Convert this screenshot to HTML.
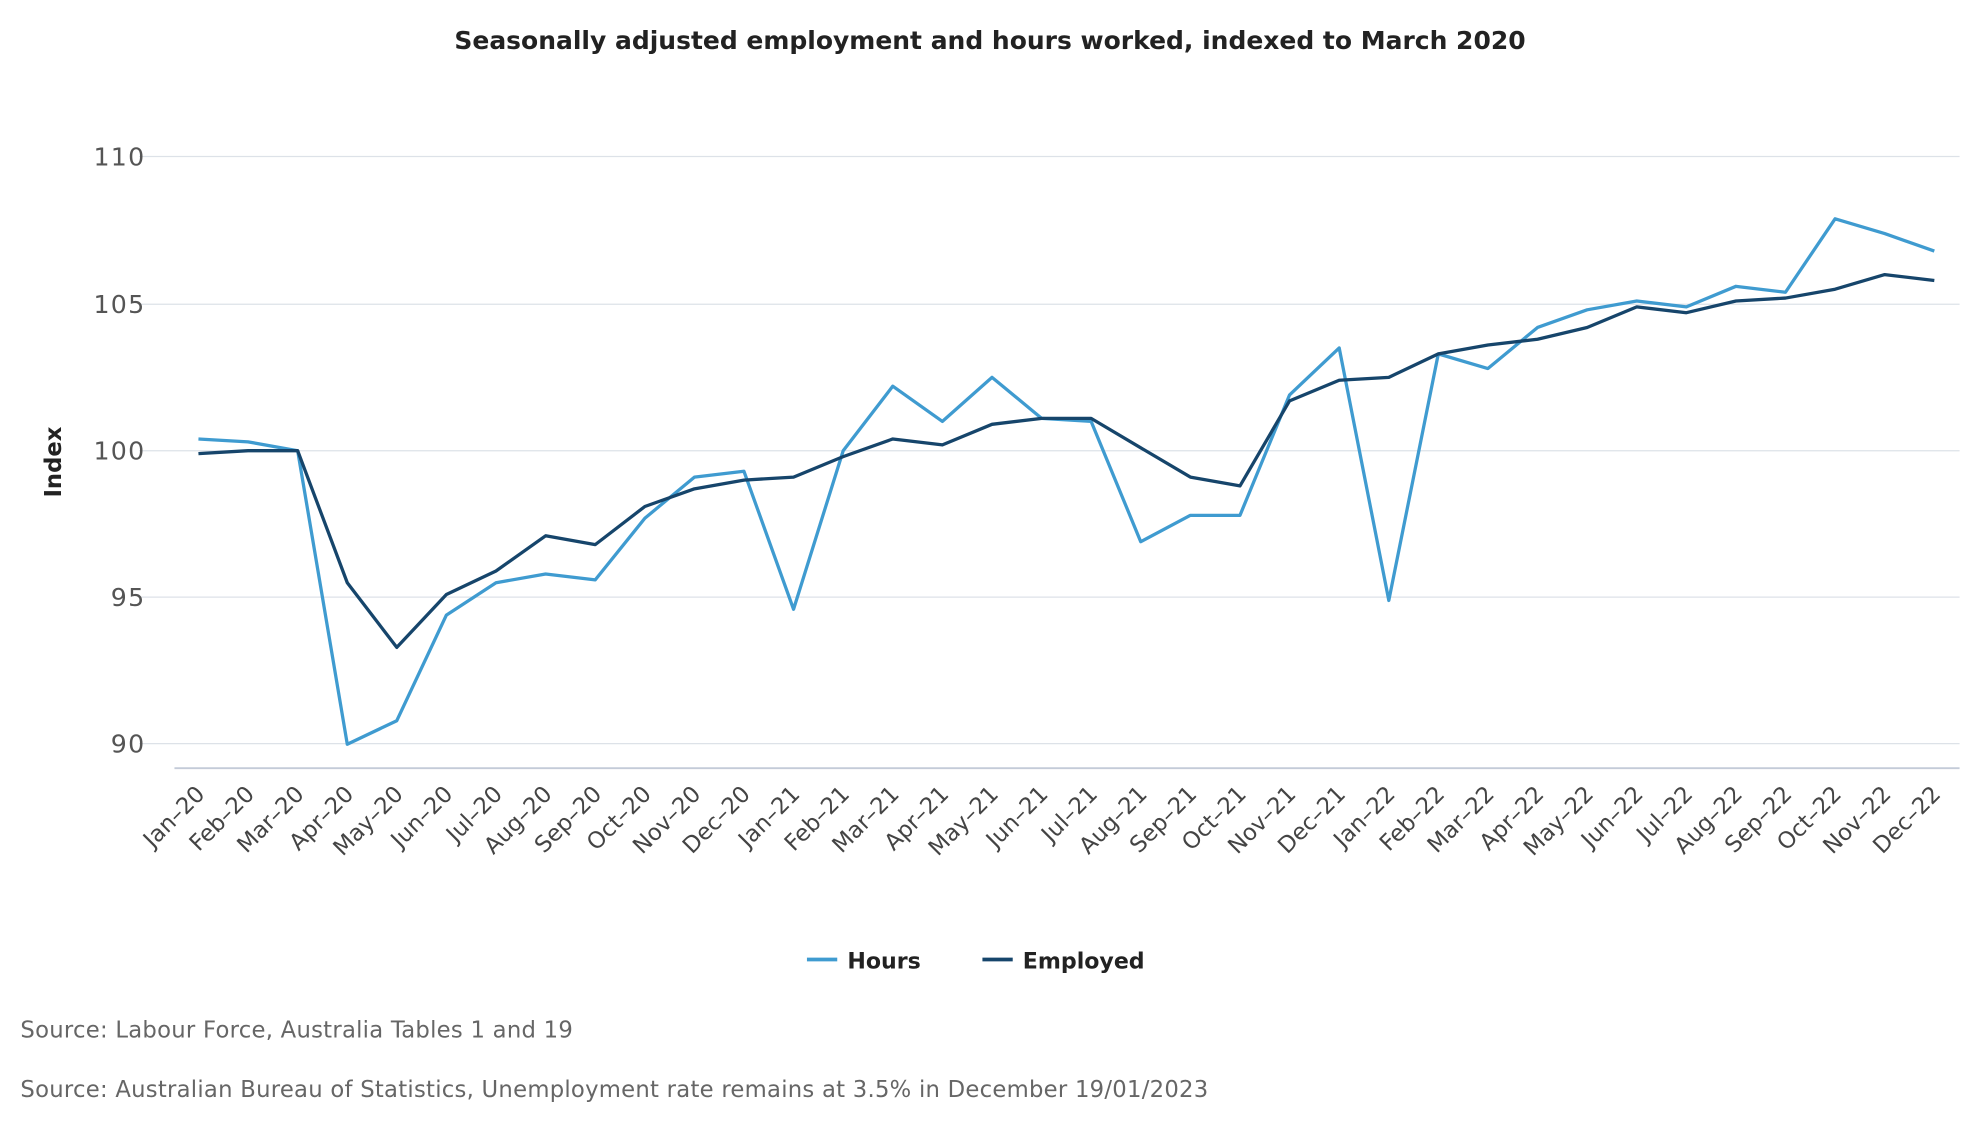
<!DOCTYPE html>
<html><head><meta charset="utf-8"><style>
html,body{margin:0;padding:0;background:#fff;}
svg{display:block;}
text{font-family:"DejaVu Sans","Liberation Sans",sans-serif;}
</style></head><body>
<svg width="1980" height="1140" viewBox="0 0 1568 903" xmlns="http://www.w3.org/2000/svg">
<rect width="1568" height="903" fill="#fff"/>
<text x="784" y="39" text-anchor="middle" font-size="19.8" font-weight="bold" fill="#222">Seasonally adjusted employment and hours worked, indexed to March 2020</text>
<g stroke="#dde2e8" stroke-width="1">
<line x1="110" y1="124" x2="1552" y2="124"/>
<line x1="110" y1="241" x2="1552" y2="241"/>
<line x1="110" y1="357" x2="1552" y2="357"/>
<line x1="110" y1="473" x2="1552" y2="473"/>
<line x1="110" y1="589" x2="1552" y2="589"/>
</g>
<line x1="138" y1="608.5" x2="1552" y2="608.5" stroke="#c4cbd8" stroke-width="1.5"/>
<g font-size="20" fill="#555" text-anchor="end" letter-spacing="1">
<text x="115" y="131">110</text>
<text x="115" y="248">105</text>
<text x="115" y="364">100</text>
<text x="115" y="480">95</text>
<text x="115" y="596">90</text>
</g>
<text transform="translate(48,366) rotate(-90)" text-anchor="middle" font-size="18" font-weight="bold" fill="#222">Index</text>
<polyline fill="none" stroke="#3f9bd0" stroke-width="2.6" stroke-linejoin="round" points="157,347.7 196.3,350 235.6,357 274.9,589.5 314.1,570.9 353.4,487.2 392.7,461.6 432,454.7 471.3,459.3 510.6,410.5 549.9,377.9 589.1,373.3 628.4,482.6 667.7,357 707,305.9 746.3,333.8 785.6,298.9 824.9,331.4 864.1,333.8 903.4,429.1 942.7,408.2 982,408.2 1021.3,312.8 1060.6,275.6 1099.9,475.6 1139.1,280.3 1178.4,291.9 1217.7,259.4 1257,245.4 1296.3,238.4 1335.6,243.1 1374.9,226.8 1414.1,231.5 1453.4,173.3 1492.7,185 1532,198.9"/>
<polyline fill="none" stroke="#16456b" stroke-width="2.6" stroke-linejoin="round" points="157,359.3 196.3,357 235.6,357 274.9,461.6 314.1,512.8 353.4,470.9 392.7,452.3 432,424.4 471.3,431.4 510.6,401.2 549.9,387.2 589.1,380.3 628.4,377.9 667.7,361.7 707,347.7 746.3,352.4 785.6,336.1 824.9,331.4 864.1,331.4 903.4,354.7 942.7,377.9 982,384.9 1021.3,317.5 1060.6,301.2 1099.9,298.9 1139.1,280.3 1178.4,273.3 1217.7,268.7 1257,259.4 1296.3,243.1 1335.6,247.7 1374.9,238.4 1414.1,236.1 1453.4,229.1 1492.7,217.5 1532,222.2"/>
<g font-size="18" fill="#444" text-anchor="end">
<text transform="translate(163,630) rotate(-45)">Jan–20</text>
<text transform="translate(202.3,630) rotate(-45)">Feb–20</text>
<text transform="translate(241.6,630) rotate(-45)">Mar–20</text>
<text transform="translate(280.9,630) rotate(-45)">Apr–20</text>
<text transform="translate(320.1,630) rotate(-45)">May–20</text>
<text transform="translate(359.4,630) rotate(-45)">Jun–20</text>
<text transform="translate(398.7,630) rotate(-45)">Jul–20</text>
<text transform="translate(438,630) rotate(-45)">Aug–20</text>
<text transform="translate(477.3,630) rotate(-45)">Sep–20</text>
<text transform="translate(516.6,630) rotate(-45)">Oct–20</text>
<text transform="translate(555.9,630) rotate(-45)">Nov–20</text>
<text transform="translate(595.1,630) rotate(-45)">Dec–20</text>
<text transform="translate(634.4,630) rotate(-45)">Jan–21</text>
<text transform="translate(673.7,630) rotate(-45)">Feb–21</text>
<text transform="translate(713,630) rotate(-45)">Mar–21</text>
<text transform="translate(752.3,630) rotate(-45)">Apr–21</text>
<text transform="translate(791.6,630) rotate(-45)">May–21</text>
<text transform="translate(830.9,630) rotate(-45)">Jun–21</text>
<text transform="translate(870.1,630) rotate(-45)">Jul–21</text>
<text transform="translate(909.4,630) rotate(-45)">Aug–21</text>
<text transform="translate(948.7,630) rotate(-45)">Sep–21</text>
<text transform="translate(988,630) rotate(-45)">Oct–21</text>
<text transform="translate(1027.3,630) rotate(-45)">Nov–21</text>
<text transform="translate(1066.6,630) rotate(-45)">Dec–21</text>
<text transform="translate(1105.9,630) rotate(-45)">Jan–22</text>
<text transform="translate(1145.1,630) rotate(-45)">Feb–22</text>
<text transform="translate(1184.4,630) rotate(-45)">Mar–22</text>
<text transform="translate(1223.7,630) rotate(-45)">Apr–22</text>
<text transform="translate(1263,630) rotate(-45)">May–22</text>
<text transform="translate(1302.3,630) rotate(-45)">Jun–22</text>
<text transform="translate(1341.6,630) rotate(-45)">Jul–22</text>
<text transform="translate(1380.9,630) rotate(-45)">Aug–22</text>
<text transform="translate(1420.1,630) rotate(-45)">Sep–22</text>
<text transform="translate(1459.4,630) rotate(-45)">Oct–22</text>
<text transform="translate(1498.7,630) rotate(-45)">Nov–22</text>
<text transform="translate(1538,630) rotate(-45)">Dec–22</text>
</g>
<line x1="639" y1="760" x2="663" y2="760" stroke="#3f9bd0" stroke-width="3"/>
<text x="671" y="767" font-size="17.5" font-weight="bold" fill="#222">Hours</text>
<line x1="778" y1="760" x2="802" y2="760" stroke="#16456b" stroke-width="3"/>
<text x="810" y="767" font-size="17.5" font-weight="bold" fill="#222">Employed</text>
<text x="16" y="822" font-size="18" fill="#666" letter-spacing="0.2">Source: Labour Force, Australia Tables 1 and 19</text>
<text x="16" y="869" font-size="18" fill="#666" letter-spacing="0.2">Source: Australian Bureau of Statistics, Unemployment rate remains at 3.5% in December 19/01/2023</text>
</svg>
</body></html>
